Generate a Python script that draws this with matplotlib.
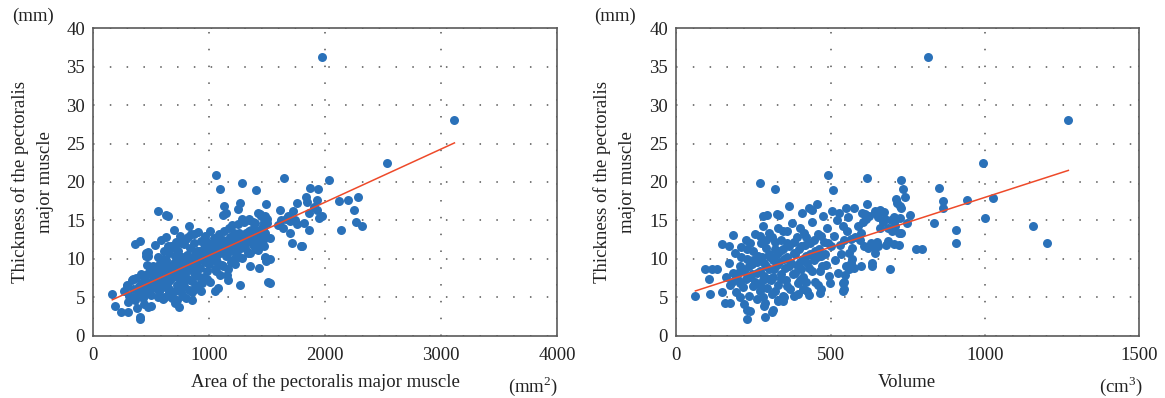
import numpy as np
import matplotlib
matplotlib.use("Agg")
import matplotlib.pyplot as plt

plt.rcParams["font.family"] = ["Liberation Serif", "DejaVu Serif"]
plt.rcParams["mathtext.fontset"] = "custom"
plt.rcParams["mathtext.rm"] = "Liberation Serif"

# ---- data (x, thickness in mm) ----
# left panel: area of the pectoralis major muscle (mm^2)
area_outer = [
    (1974, 36.3), (3115, 28.1), (2536, 22.5), (2030, 20.2), (1647, 20.5), (1055, 20.9), (1090, 19.1),
    (1282, 19.8), (1400, 18.9), (1869, 19.2), (1935, 19.1), (1832, 18.0), (1846, 17.4), (1759, 17.3),
    (1926, 17.6), (2119, 17.5), (2197, 17.7), (2280, 18.0), (1610, 16.3), (1719, 16.2), (1860, 16.0),
    (1900, 16.7), (1930, 16.3), (2248, 16.3), (1975, 15.6), (1947, 15.3), (2263, 14.8), (2315, 14.3),
    (2134, 13.8), (1817, 14.6), (1860, 13.8), (1638, 14.0), (1696, 13.4), (1711, 12.0), (1791, 11.6),
    (1803, 11.7), (1590, 14.4), (1620, 15.0), (1660, 15.2), (1700, 14.9), (1740, 15.1), (1755, 14.5),
    (1680, 15.5), (1526, 12.7), (1524, 9.9), (1524, 6.9), (555, 16.2), (626, 15.7), (641, 15.6),
    (1492, 17.1), (1262, 17.2), (1250, 16.5), (1127, 16.8), (1122, 15.7), (1140, 16.0), (1345, 15.0),
    (362, 11.9), (400, 12.3), (698, 13.7), (827, 14.2), (451, 10.8), (474, 10.3), (1222, 9.3),
    (1349, 9.0), (1426, 8.8), (1268, 6.6), (1504, 7.0), (1483, 10.2), (1490, 9.7), (1159, 7.2),
    (1150, 7.9), (1075, 6.2), (1046, 5.8), (848, 4.6), (704, 4.2), (739, 3.75), (500, 3.9),
    (437, 4.1), (474, 3.7), (379, 3.6), (405, 2.45), (402, 2.2), (301, 3.1), (241, 3.0), (184, 3.9),
    (163, 5.4), (293, 6.4), (342, 7.3), (301, 4.4), (362, 4.6), (471, 5.5),
    (1420, 15.9), (1450, 15.5), (1470, 14.8), (1480, 15.6), (1500, 15.2), (1460, 14.2), (1380, 14.8),
    (1350, 12.4), (1400, 11.2), (1440, 11.9), (1460, 12.5), (1410, 13.2),
]
area_blob = [
    (260, 5.8), (290, 6.6), (310, 5.2), (330, 7.2), (345, 6.0), (360, 5.0), (370, 7.5), (390, 6.4),
    (400, 5.6), (410, 8.0), (420, 6.9), (430, 4.9), (440, 7.6), (450, 10.4), (450, 5.9), (460, 9.2),
    (470, 10.9), (480, 6.5), (490, 8.6), (500, 5.3),
    (510, 9.0), (520, 7.1), (530, 11.8), (540, 6.2), (550, 8.1), (560, 10.2), (570, 5.6), (575, 9.5),
    (580, 12.4), (590, 7.4), (600, 6.3), (605, 11.0), (610, 8.6), (620, 5.0), (625, 12.8), (630, 9.8),
    (640, 7.0), (650, 10.8), (655, 6.0), (660, 8.3), (670, 11.6), (675, 4.9), (680, 9.2), (690, 7.6),
    (700, 10.3), (700, 5.8), (710, 12.2), (715, 8.4),
    (720, 6.6), (730, 11.0), (740, 9.5), (745, 7.2), (750, 13.0), (760, 5.6), (765, 10.2), (770, 8.0),
    (780, 11.9), (785, 6.4), (790, 9.0), (800, 12.6), (805, 7.4), (810, 10.5), (820, 8.6), (825, 5.9),
    (830, 11.4), (840, 9.7), (845, 13.2), (850, 7.1), (860, 10.0), (865, 8.2), (870, 12.0), (880, 6.3),
    (885, 9.4), (890, 11.0), (900, 13.5), (900, 7.8),
    (910, 10.3), (920, 8.8), (925, 12.3), (935, 6.8), (940, 9.9), (950, 11.4), (955, 7.6), (965, 13.0),
    (970, 10.6), (980, 8.4), (990, 12.0), (1000, 9.3), (1005, 13.6), (1010, 7.0), (1020, 11.0),
    (1030, 10.0), (1040, 12.7), (1050, 8.6), (1060, 11.6), (1070, 9.6), (1080, 13.2), (1090, 7.9),
    (1095, 10.8),
    (1100, 12.3), (1110, 9.2), (1120, 11.3), (1130, 13.6), (1140, 10.3), (1150, 12.0), (1160, 8.6),
    (1170, 14.0), (1180, 11.0), (1190, 12.8), (1200, 9.8), (1210, 13.3), (1220, 11.6), (1230, 10.6),
    (1240, 12.4), (1250, 14.5), (1260, 11.2), (1270, 13.0), (1280, 10.1), (1290, 12.0), (1300, 14.8),
    (1310, 11.4), (1320, 13.4), (1330, 12.5), (1340, 15.2), (1350, 10.8), (1360, 13.8), (1380, 11.8),
    (1390, 14.6), (1400, 12.4), (1420, 11.1), (1430, 13.0), (1440, 15.8), (1450, 12.0), (1460, 14.0),
    (1470, 11.6), (1480, 13.3), (1500, 14.6),
    (560, 5.0), (600, 4.7), (640, 5.3), (680, 5.0), (720, 4.6), (770, 5.2), (800, 4.9), (850, 5.6),
    (880, 6.0), (930, 5.8),
]
area_core = [
    (380, 6.0), (420, 5.8), (440, 6.6), (470, 7.0), (490, 6.0), (510, 7.8), (530, 6.8), (545, 7.6),
    (560, 6.6), (580, 8.2), (595, 7.0), (610, 7.8), (620, 9.0), (635, 6.8), (645, 8.0), (660, 7.2),
    (675, 8.6), (685, 7.8), (695, 9.4), (705, 8.2), (720, 8.8), (735, 7.8), (748, 9.0), (758, 8.4),
    (775, 9.8), (790, 8.0), (800, 9.4), (815, 8.6), (830, 10.0), (838, 9.0), (855, 9.6), (870, 8.8),
    (880, 10.6), (895, 9.6), (905, 8.8), (915, 11.0), (930, 10.0), (945, 10.8), (960, 9.6), (975, 11.4),
    (985, 10.4), (1000, 11.2), (1015, 10.2), (1030, 11.8), (1045, 10.8), (1060, 10.0), (1075, 11.2),
    (1090, 12.0), (1105, 11.0), (1120, 12.4), (1135, 11.6), (1150, 10.8), (1165, 12.2), (1180, 12.8),
    (1195, 11.4), (1210, 12.0), (1230, 12.8), (1245, 11.6), (1260, 13.4), (1280, 12.4), (1300, 13.0),
    (1320, 12.2), (1340, 13.6), (1360, 12.6), (1380, 13.0), (1400, 13.8), (1420, 12.8), (1440, 13.6),
    (600, 10.0), (640, 11.6), (700, 11.4), (760, 12.0), (820, 12.8), (870, 13.2), (960, 12.6),
    (560, 8.8), (500, 7.0), (460, 8.0), (650, 5.8), (750, 6.2), (830, 7.2), (900, 6.6), (980, 7.4),
    (1060, 8.4), (1120, 9.0), (1190, 9.6), (1260, 10.2), (1330, 10.8), (1200, 14.4), (1280, 15.2),
]

# right panel: volume (cm^3)
volume_outer = [
    (817, 36.3), (1271, 28.1), (995, 22.5), (1028, 17.9), (941, 17.6), (1002, 15.3), (1155, 14.3),
    (1201, 12.0), (906, 13.8), (906, 12.0), (852, 19.2), (866, 17.5), (866, 16.6), (836, 14.7),
    (776, 11.2), (797, 11.2), (728, 20.2), (734, 19.1), (741, 18.0), (713, 17.8), (716, 17.3),
    (726, 16.9), (730, 16.6), (757, 15.7), (747, 14.6), (710, 15.0), (724, 15.3), (722, 13.3),
    (727, 13.4), (685, 12.3), (705, 11.9), (722, 11.8), (693, 8.6), (645, 16.2), (660, 16.3),
    (673, 16.1), (637, 11.7), (654, 11.7), (645, 10.7), (634, 9.4), (634, 9.0), (617, 20.5),
    (617, 17.1), (491, 20.9), (508, 18.9), (272, 19.8), (321, 19.1), (366, 16.8), (282, 15.6),
    (293, 15.7), (327, 15.8), (333, 15.7), (407, 16.0), (430, 16.6), (455, 17.1), (440, 16.3),
    (528, 16.0), (550, 16.6), (557, 15.4), (601, 15.9), (611, 15.8), (185, 13.1), (147, 11.9),
    (172, 11.7), (94, 8.7), (115, 8.7), (131, 8.7), (105, 7.4), (62, 5.2), (108, 5.4), (147, 5.6),
    (159, 4.2), (174, 4.2), (220, 4.1), (228, 3.3), (229, 2.2), (238, 3.2), (289, 2.45), (309, 3.0),
    (314, 3.3), (285, 3.8), (289, 4.2), (330, 4.5), (346, 4.5), (431, 5.3), (467, 5.5), (499, 6.8),
    (539, 6.9), (539, 5.8), (546, 7.9), (599, 9.0), (280, 14.2), (470, 13.0),
]
volume_blob = [
    (160, 7.6), (170, 9.5), (175, 6.6), (185, 8.2), (190, 10.8), (195, 5.6), (200, 7.2), (205, 9.0),
    (210, 11.5), (215, 6.3), (220, 8.4), (225, 12.4), (230, 10.0), (235, 5.2), (240, 7.6), (245, 9.3),
    (250, 11.0), (250, 6.4), (255, 13.2),
    (260, 8.2), (265, 10.4), (270, 5.8), (275, 12.0), (280, 7.2), (285, 9.4), (290, 11.4), (295, 6.2),
    (300, 8.6), (300, 13.4), (305, 10.2), (310, 5.4), (315, 7.6), (320, 12.2), (325, 9.2), (330, 6.6),
    (335, 11.0), (340, 8.0), (345, 13.6), (350, 10.0), (350, 5.0),
    (355, 7.2), (360, 12.0), (365, 9.0), (370, 6.0), (375, 14.6), (380, 10.8), (385, 8.2), (390, 12.8),
    (395, 6.8), (400, 9.6), (405, 11.6), (410, 7.6), (415, 13.4), (420, 10.4), (425, 5.8), (430, 8.8),
    (435, 12.0), (440, 14.8), (445, 9.8), (450, 7.0), (450, 11.0),
    (460, 13.2), (465, 8.4), (470, 10.4), (475, 15.6), (480, 12.2), (485, 9.2), (490, 14.0), (495, 7.8),
    (500, 11.6), (505, 16.2), (510, 13.0), (515, 9.8), (520, 15.0), (525, 8.2), (530, 11.8),
    (535, 10.6), (540, 14.2), (545, 12.4), (550, 9.0), (555, 13.6), (560, 10.8), (565, 12.6),
    (570, 11.4), (575, 16.6), (580, 12.8),
    (590, 14.2), (595, 12.4), (600, 13.4), (605, 14.8), (610, 11.6), (615, 15.2), (620, 11.4),
    (625, 15.6), (630, 12.0), (640, 11.8), (645, 16.0), (650, 12.2), (655, 15.4), (660, 14.0),
    (670, 14.8), (675, 15.2), (680, 11.8), (685, 14.0), (695, 15.0), (700, 13.6), (705, 15.4),
    (710, 14.2), (545, 6.0), (545, 7.0), (560, 8.6), (565, 9.4), (575, 8.8), (570, 10.0),
    (205, 5.0), (260, 4.8), (280, 5.0), (330, 4.6), (345, 5.2), (395, 5.4), (410, 6.0), (420, 7.0),
    (460, 6.6), (470, 6.0),
]
volume_core = [
    (180, 7.0), (195, 7.8), (205, 6.8), (215, 8.6), (225, 7.4), (235, 9.0), (245, 8.0), (255, 7.0),
    (262, 9.6), (270, 8.4), (278, 10.2), (285, 7.8), (292, 9.0), (300, 10.6), (306, 7.2), (312, 9.8),
    (318, 8.6), (326, 10.6), (334, 9.6), (340, 7.4), (346, 11.2), (352, 8.8), (358, 10.2), (364, 11.6),
    (372, 9.4), (378, 8.0), (384, 10.6), (392, 9.2), (398, 11.2), (404, 8.6), (412, 10.0), (418, 11.8),
    (424, 9.4), (432, 10.6), (440, 8.4), (448, 12.4), (456, 10.2), (464, 11.2), (472, 9.0), (482, 10.6),
    (492, 12.0), (240, 12.0), (270, 13.0), (310, 12.8), (330, 14.0), (360, 13.6), (400, 14.0),
    (230, 11.2), (290, 12.4), (340, 12.4), (380, 12.2), (420, 12.8), (210, 10.2), (250, 9.8),
    (320, 11.2), (270, 6.6), (320, 5.8), (360, 6.4), (400, 7.2), (380, 5.2), (300, 7.4), (200, 8.2),
]

# linear fits as drawn (slope, intercept)
fit_area = (0.00692, 3.52)
fit_volume = (0.01298, 5.0)

x_ticks_area = [0, 1000, 2000, 3000, 4000]
x_ticks_volume = [0, 500, 1000, 1500]
y_ticks = [0, 5, 10, 15, 20, 25, 30, 35, 40]

W, H = 1165, 398
DOT = "#2a71b9"
LINE = "#ee4a2a"
FS = 13.5


def fpos(x, y):
    return x / W, 1 - y / H


def panel(ax, pts, fit, xticks):
    p = np.array(pts)
    ax.scatter(p[:, 0], p[:, 1], s=42, color=DOT, linewidths=0, zorder=3)
    xs = np.array([p[:, 0].min(), p[:, 0].max()])
    ax.plot(xs, fit[1] + fit[0] * xs, color=LINE, lw=1.1, zorder=4)
    ax.set_xlim(xticks[0], xticks[-1])
    ax.set_ylim(y_ticks[0], y_ticks[-1])
    ax.set_xticks(xticks)
    ax.set_yticks(y_ticks)
    ax.set_axisbelow(True)
    ax.grid(True, color="#555555", linestyle=(0, (1, 10)), linewidth=1.1)
    ax.tick_params(length=0, labelsize=FS, colors="#222222")
    ax.tick_params(axis="x", pad=8)
    ax.tick_params(axis="y", pad=6)
    for s in ax.spines.values():
        s.set_color("#5a5a5a")
        s.set_linewidth(1.2)


fig = plt.figure(figsize=(W / 100, H / 100), dpi=100)
ax1 = fig.add_axes([93.4 / W, 1 - 335.5 / H, 463.6 / W, 307.2 / H])
ax2 = fig.add_axes([676.3 / W, 1 - 335.5 / H, 462.7 / W, 307.2 / H])

panel(ax1, area_outer + area_blob + area_core, fit_area, x_ticks_area)
panel(ax2, volume_outer + volume_blob + volume_core, fit_volume, x_ticks_volume)

ylab = "Thickness of the pectoralis\nmajor muscle"
tkw = dict(fontsize=FS, color="#222222")
fig.text(*fpos(32.5, 182), ylab, rotation=90, ha="center", va="center",
         multialignment="center", linespacing=1.65, **tkw)
fig.text(*fpos(614.5, 182), ylab, rotation=90, ha="center", va="center",
         multialignment="center", linespacing=1.65, **tkw)
fig.text(*fpos(33, 21), "(mm)", ha="center", va="baseline", **tkw)
fig.text(*fpos(615, 21), "(mm)", ha="center", va="baseline", **tkw)
fig.text(*fpos(325, 387), "Area of the pectoralis major muscle", ha="center", va="baseline", **tkw)
fig.text(*fpos(533, 392), r"(mm$^2$)", ha="center", va="baseline", **tkw)
fig.text(*fpos(907, 387), "Volume", ha="center", va="baseline", **tkw)
fig.text(*fpos(1121, 392), r"(cm$^3$)", ha="center", va="baseline", **tkw)

fig.savefig("out.png", dpi=100)
